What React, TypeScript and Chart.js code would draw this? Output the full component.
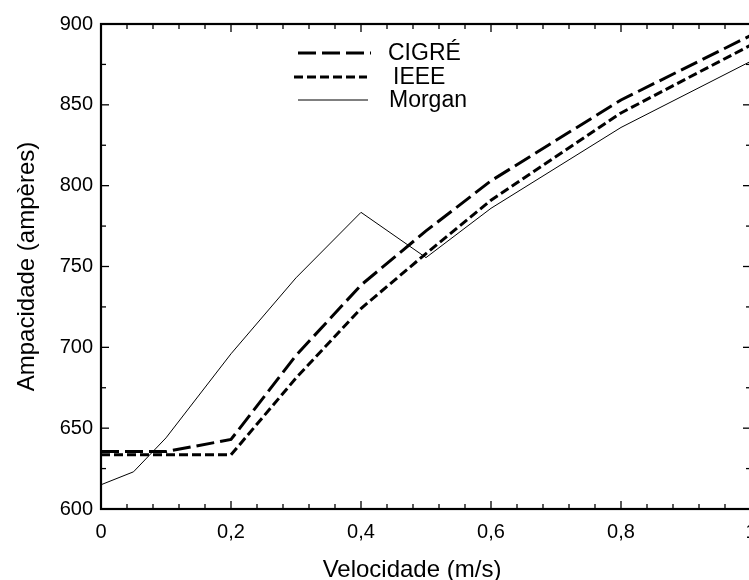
import React, { useEffect, useRef } from 'react';
import { Chart, registerables } from 'chart.js';

Chart.register(...registerables);

// ---- data ----
const cigreX = [0, 0.1, 0.2, 0.3, 0.4, 0.5, 0.6, 0.8, 1.0];
const cigreY = [635.5, 635.5, 643, 695, 738.5, 772, 803, 853, 893];
const ieeeX = [0, 0.1, 0.2, 0.3, 0.4, 0.5, 0.6, 0.8, 1.0];
const ieeeY = [633.5, 633.5, 633.5, 681, 724, 758, 791, 845, 887];
const morganX = [0, 0.05, 0.1, 0.2, 0.3, 0.4, 0.5, 0.6, 0.8, 1.0];
const morganY = [615, 623, 644, 696, 743, 783.5, 755.5, 786, 836, 877];
const seriesNames = ['CIGRÉ', 'IEEE', 'Morgan'];
const xTitle = 'Velocidade (m/s)';
const yTitle = 'Ampacidade (ampères)';

const FONT = '"Liberation Sans", Arial, sans-serif';

const toPoints = (xs: number[], ys: number[]) => xs.map((x, i) => ({ x, y: ys[i] }));

const framePlugin = {
  id: 'frameAndLegend',
  afterDraw(chart: any) {
    const { ctx, chartArea } = chart;
    const { left, right, top, bottom } = chartArea;
    const xs = chart.scales.x;
    const ys = chart.scales.y;
    ctx.save();
    ctx.strokeStyle = '#000';
    ctx.setLineDash([]);
    const seg = (x1: number, y1: number, x2: number, y2: number) => {
      ctx.beginPath();
      ctx.moveTo(x1, y1);
      ctx.lineTo(x2, y2);
      ctx.stroke();
    };
    ctx.lineWidth = 1.3;
    for (let i = 0; i <= 25; i++) {
      const px = xs.getPixelForValue(i * 0.04);
      const len = i % 5 === 0 ? 8 : 5;
      seg(px, bottom, px, bottom - len);
      seg(px, top, px, top + len);
    }
    for (let i = 0; i <= 12; i++) {
      const py = ys.getPixelForValue(600 + i * 25);
      const len = i % 2 === 0 ? 8 : 5;
      seg(left, py, left + len, py);
      seg(right, py, right - len, py);
    }
    ctx.lineWidth = 2.2;
    ctx.strokeRect(left, top, right - left, bottom - top);

    // x title
    ctx.fillStyle = '#000';
    ctx.font = `24px ${FONT}`;
    ctx.textAlign = 'center';
    ctx.textBaseline = 'alphabetic';
    ctx.fillText(xTitle, left + 311, 577);

    // legend
    const rows = [
      { y: 53, x1: 298, x2: 371, tx: 388 },
      { y: 77, x1: 294, x2: 367, tx: 393 },
      { y: 100, x1: 298, x2: 368, tx: 389 },
    ];
    chart.data.datasets.forEach((ds: any, i: number) => {
      const r = rows[i];
      ctx.lineWidth = ds.borderWidth;
      ctx.setLineDash(ds.borderDash || []);
      seg(r.x1, r.y, r.x2, r.y);
      ctx.setLineDash([]);
      ctx.textAlign = 'left';
      ctx.textBaseline = 'middle';
      ctx.font = `23px ${FONT}`;
      ctx.fillText(ds.label, r.tx, r.y + 1);
    });
    ctx.restore();
  },
};

export default function App() {
  const canvasRef = useRef<HTMLCanvasElement | null>(null);

  useEffect(() => {
    const canvas = canvasRef.current;
    if (!canvas) return;
    Chart.defaults.font.family = FONT;
    Chart.defaults.color = '#000';
    const chart = new Chart(canvas, {
      type: 'line',
      data: {
        datasets: [
          {
            label: seriesNames[0],
            data: toPoints(cigreX, cigreY),
            borderColor: '#000',
            borderWidth: 3,
            borderDash: [18, 6],
            pointRadius: 0,
            tension: 0,
            fill: false,
          },
          {
            label: seriesNames[1],
            data: toPoints(ieeeX, ieeeY),
            borderColor: '#000',
            borderWidth: 3,
            borderDash: [9, 4],
            pointRadius: 0,
            tension: 0,
            fill: false,
          },
          {
            label: seriesNames[2],
            data: toPoints(morganX, morganY),
            borderColor: '#000',
            borderWidth: 1,
            borderDash: [],
            pointRadius: 0,
            tension: 0,
            fill: false,
          },
        ],
      },
      options: {
        responsive: false,
        devicePixelRatio: 1,
        animation: false,
        parsing: false as any,
        layout: { padding: { left: 0, top: 24, right: 9, bottom: 0 } },
        plugins: {
          legend: { display: false },
          tooltip: { enabled: false },
        },
        scales: {
          x: {
            type: 'linear',
            min: 0,
            max: 1,
            grid: { display: false, drawTicks: false },
            border: { display: false },
            ticks: {
              stepSize: 0.2,
              padding: 11,
              color: '#000',
              font: { size: 20, family: FONT },
              maxRotation: 0,
              callback: (v: any) => {
                const n = Number(v);
                if (Math.abs(n) < 1e-9) return '0';
                if (Math.abs(n - 1) < 1e-9) return '1';
                return n.toFixed(1).replace('.', ',');
              },
            },
            afterFit: (s: any) => {
              s.height = 71;
              s.paddingLeft = 0;
              s.paddingRight = 0;
            },
          },
          y: {
            type: 'linear',
            min: 600,
            max: 900,
            grid: { display: false, drawTicks: false },
            border: { display: false },
            ticks: {
              stepSize: 50,
              padding: 8,
              color: '#000',
              font: { size: 20, family: FONT },
            },
            title: {
              display: true,
              text: yTitle,
              color: '#000',
              font: { size: 24, family: FONT },
              padding: { top: 13, bottom: 0 },
            },
            afterFit: (s: any) => {
              s.width = 101;
              s.paddingTop = 0;
              s.paddingBottom = 0;
            },
          },
        },
      },
      plugins: [framePlugin],
    });
    return () => chart.destroy();
  }, []);

  return (
    <div
      style={{
        position: 'fixed',
        left: 0,
        top: 0,
        width: 749,
        height: 580,
        overflow: 'hidden',
        background: '#fff',
      }}
    >
      <canvas ref={canvasRef} width={760} height={580} style={{ display: 'block' }} />
    </div>
  );
}
